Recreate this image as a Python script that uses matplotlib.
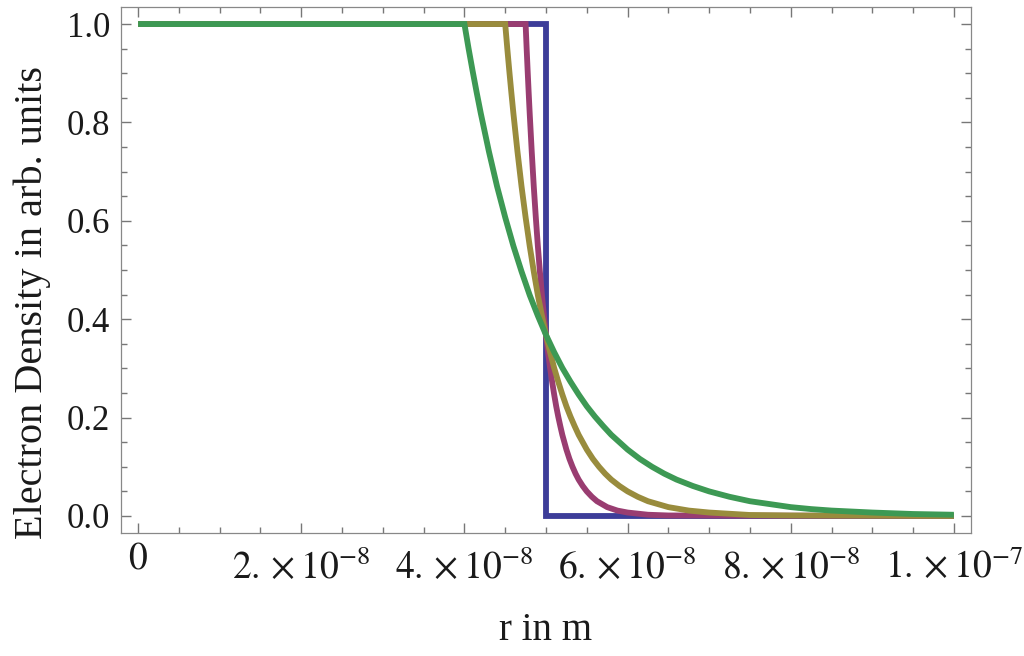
import matplotlib
matplotlib.use('Agg')
import matplotlib.pyplot as plt
import matplotlib.transforms as mtrans
from matplotlib.ticker import MultipleLocator, FixedLocator

plt.rcParams['font.family'] = ['Liberation Serif', 'DejaVu Serif']
plt.rcParams['mathtext.fontset'] = 'stix'

# Radii are given in units of 1e-8 m, densities in arb. units
STEP_R = [0.0, 5.0, 5.0, 10.0]
STEP_N = [1.0, 1.0, 0.0, 0.0]

PURPLE_R = [0.0, 4.75, 4.7625, 4.775, 4.7875, 4.8, 4.825, 4.85, 4.875, 4.9,
            4.925, 4.95, 4.975, 5.0, 5.025, 5.05, 5.075, 5.1, 5.125, 5.15,
            5.175, 5.2, 5.225, 5.25, 5.2875, 5.325, 5.3625, 5.4, 5.45, 5.5,
            5.5625, 5.625, 5.6875, 5.75, 5.875, 6.0, 6.25, 6.5, 10.0]
PURPLE_N = [1.0, 1.0, 0.951, 0.905, 0.861, 0.819, 0.741, 0.670, 0.607, 0.549,
            0.497, 0.449, 0.407, 0.368, 0.333, 0.301, 0.273, 0.247, 0.223,
            0.202, 0.183, 0.165, 0.150, 0.135, 0.116, 0.100, 0.086, 0.074,
            0.061, 0.050, 0.039, 0.030, 0.024, 0.018, 0.011, 0.007, 0.0025,
            0.001, 0.0]

OLIVE_R = [0.0, 4.5, 4.525, 4.55, 4.575, 4.6, 4.65, 4.7, 4.75, 4.8, 4.85, 4.9,
           4.95, 5.0, 5.05, 5.1, 5.15, 5.2, 5.25, 5.3, 5.35, 5.4, 5.45, 5.5,
           5.575, 5.65, 5.725, 5.8, 5.9, 6.0, 6.125, 6.25, 6.375, 6.5, 6.75,
           7.0, 7.5, 8.0, 10.0]
OLIVE_N = [1.0, 1.0, 0.951, 0.905, 0.861, 0.819, 0.741, 0.670, 0.607, 0.549,
           0.497, 0.449, 0.407, 0.368, 0.333, 0.301, 0.273, 0.247, 0.223,
           0.202, 0.183, 0.165, 0.150, 0.135, 0.116, 0.100, 0.086, 0.074,
           0.061, 0.050, 0.039, 0.030, 0.024, 0.018, 0.011, 0.007, 0.002,
           0.001, 0.0]

GREEN_R = [0.0, 4.0, 4.05, 4.1, 4.15, 4.2, 4.3, 4.4, 4.5, 4.6, 4.7, 4.8, 4.9,
           5.0, 5.1, 5.2, 5.3, 5.4, 5.5, 5.6, 5.7, 5.8, 5.9, 6.0, 6.15, 6.3,
           6.45, 6.6, 6.8, 7.0, 7.25, 7.5, 7.75, 8.0, 8.25, 8.5, 8.75, 9.0,
           9.5, 10.0]
GREEN_N = [1.0, 1.0, 0.951, 0.905, 0.861, 0.819, 0.741, 0.670, 0.607, 0.549,
           0.497, 0.449, 0.407, 0.368, 0.333, 0.301, 0.273, 0.247, 0.223,
           0.202, 0.183, 0.165, 0.150, 0.135, 0.116, 0.100, 0.086, 0.074,
           0.061, 0.050, 0.039, 0.030, 0.024, 0.018, 0.014, 0.011, 0.009,
           0.007, 0.004, 0.0025]

X_TICKS = [0, 2e-8, 4e-8, 6e-8, 8e-8, 1e-7]
X_LABELS = [r'$0$', r'$2.\times10^{-8}$', r'$4.\times10^{-8}$',
            r'$6.\times10^{-8}$', r'$8.\times10^{-8}$', r'$1.\times10^{-7}$']
Y_TICKS = [0.0, 0.2, 0.4, 0.6, 0.8, 1.0]
Y_LABELS = ['0.0', '0.2', '0.4', '0.6', '0.8', '1.0']

SCALE = 1e-8

fig = plt.figure(figsize=(10.24, 6.56), dpi=100)
ax = fig.add_axes([121 / 1024, 1 - 533 / 656, 850 / 1024, 526 / 656])

# blue first, green last (green sits on top)
curves = [(STEP_R, STEP_N, '#3d3d99'),
          (PURPLE_R, PURPLE_N, '#993d71'),
          (OLIVE_R, OLIVE_N, '#998c3d'),
          (GREEN_R, GREEN_N, '#3d9954')]
for r, n, c in curves:
    ax.plot([v * SCALE for v in r], n, color=c, lw=4.2,
            solid_joinstyle='miter', solid_capstyle='butt')

ax.set_xlim(-2.1e-9, 1.021e-7)
ax.set_ylim(-0.0346, 1.0346)

ax.xaxis.set_major_locator(FixedLocator(X_TICKS))
ax.xaxis.set_minor_locator(MultipleLocator(0.5e-8))
ax.yaxis.set_major_locator(FixedLocator(Y_TICKS))
ax.yaxis.set_minor_locator(MultipleLocator(0.05))
ax.set_xticklabels(X_LABELS)
ax.set_yticklabels(Y_LABELS)

ax.tick_params(which='both', direction='in', top=True, right=True,
               color='#777777', width=1.0, labelcolor='#1a1a1a')
ax.tick_params(which='major', length=7.2)
ax.tick_params(which='minor', length=4.3)
ax.tick_params(axis='x', pad=12, labelsize=27)
ax.tick_params(axis='y', pad=8, labelsize=25)

for s in ax.spines.values():
    s.set_color('#888888')
    s.set_linewidth(0.9)

# the lone "0" sits a bit higher than the labels with exponents
zero = ax.get_xticklabels()[0]
zero.set_transform(zero.get_transform() +
                   mtrans.ScaledTranslation(0, 8 / 100, fig.dpi_scale_trans))

fig.text(546 / 1024, 16 / 656, 'r in m', fontsize=28, ha='center',
         va='baseline', color='#1a1a1a')
fig.text(42 / 1024, 0.539, 'Electron Density in arb. units', fontsize=29,
         rotation=90, rotation_mode='anchor', ha='center', va='baseline',
         color='#1a1a1a')

fig.savefig('out.png', dpi=100)
